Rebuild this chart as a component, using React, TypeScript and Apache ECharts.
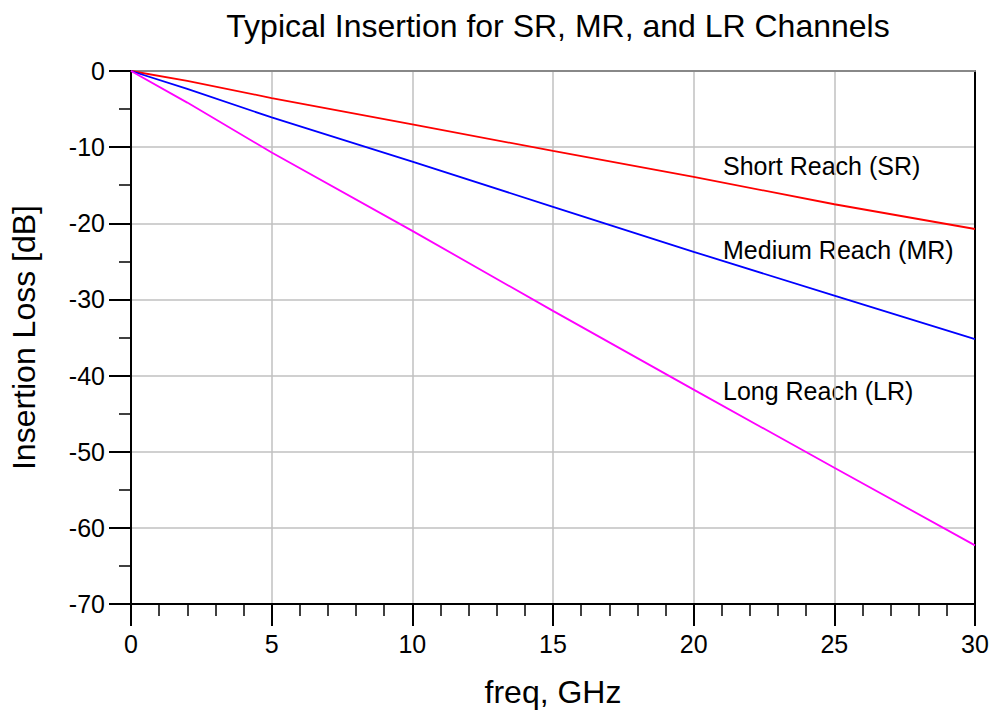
import React, { useEffect, useRef } from "react";
import * as echarts from "echarts";

const freqGHz = [0, 2, 5, 10, 15, 20, 25, 30];
const shortReach = [0, -1.3, -3.55, -7.0, -10.5, -13.9, -17.5, -20.75];
const mediumReach = [0, -2.35, -6.1, -11.9, -17.85, -23.75, -29.5, -35.2];
const longReach = [0, -4.15, -10.7, -21.0, -31.5, -41.85, -52.1, -62.3];
const seriesNames = ["Short Reach (SR)", "Medium Reach (MR)", "Long Reach (LR)"];
const seriesColors = ["#ff0000", "#0000ff", "#ff00ff"];
const titleText = "Typical Insertion for SR, MR, and LR Channels";
const xName = "freq, GHz";
const yName = "Insertion Loss [dB]";

const FONT = "Liberation Sans, Arial, sans-serif";

export default function App() {
  const ref = useRef<HTMLDivElement>(null);
  useEffect(() => {
    if (!ref.current) return;
    const chart = echarts.init(ref.current, null, { renderer: "svg" });
    const toPairs = (ys: number[]) => freqGHz.map((x, i) => [x, ys[i]]);
    const all = [shortReach, mediumReach, longReach];
    chart.setOption({
      animation: false,
      backgroundColor: "#ffffff",
      textStyle: { fontFamily: FONT },
      title: {
        text: titleText,
        left: 553,
        top: 5,
        textAlign: "center",
        textStyle: { fontFamily: FONT, fontSize: 32, fontWeight: "normal", color: "#000" },
      },
      grid: {
        left: 131,
        right: 16,
        top: 71,
        bottom: 114,
        containLabel: false,
        outerBoundsMode: "none",
      },
      xAxis: [
        {
          type: "value",
          min: 0,
          max: 30,
          interval: 5,
          name: xName,
          nameLocation: "middle",
          nameGap: 72,
          nameTextStyle: { fontFamily: FONT, fontSize: 32, color: "#000" },
          axisLine: { show: true, onZero: false, lineStyle: { color: "#000", width: 2 } },
          axisTick: { show: true, length: 22, lineStyle: { color: "#000", width: 2 } },
          minorTick: { show: true, splitNumber: 5, length: 12, lineStyle: { color: "#000", width: 1.5 } },
          axisLabel: { fontFamily: FONT, fontSize: 25, color: "#000", margin: 27 },
          splitLine: { show: true, lineStyle: { color: "#c0c0c0", width: 1.5 } },
        },
        {
          type: "value",
          position: "top",
          min: 0,
          max: 30,
          axisLine: { show: true, onZero: false, lineStyle: { color: "#888", width: 2 } },
          axisTick: { show: false },
          axisLabel: { show: false },
          splitLine: { show: false },
        },
      ],
      yAxis: [
        {
          type: "value",
          min: -70,
          max: 0,
          interval: 10,
          name: yName,
          nameLocation: "middle",
          nameGap: 91,
          nameTextStyle: { fontFamily: FONT, fontSize: 32, color: "#000" },
          axisLine: { show: true, onZero: false, lineStyle: { color: "#000", width: 2 } },
          axisTick: { show: true, length: 22, lineStyle: { color: "#000", width: 2 } },
          minorTick: { show: true, splitNumber: 2, length: 12, lineStyle: { color: "#000", width: 1.5 } },
          axisLabel: { fontFamily: FONT, fontSize: 25, color: "#000", margin: 26 },
          splitLine: { show: true, lineStyle: { color: "#c0c0c0", width: 1.5 } },
        },
        {
          type: "value",
          position: "right",
          min: -70,
          max: 0,
          axisLine: { show: true, onZero: false, lineStyle: { color: "#000", width: 2 } },
          axisTick: { show: false },
          axisLabel: { show: false },
          splitLine: { show: false },
        },
      ],
      series: all.map((ys, i) => ({
        type: "line",
        name: seriesNames[i],
        data: toPairs(ys),
        xAxisIndex: 0,
        yAxisIndex: 0,
        showSymbol: false,
        smooth: false,
        lineStyle: { color: seriesColors[i], width: 1.8 },
        itemStyle: { color: seriesColors[i] },
        z: 3,
      })),
      graphic: [
        { type: "text", left: 723, top: 153, style: { text: seriesNames[0], font: `25px ${FONT}`, fill: "#000" } },
        { type: "text", left: 723, top: 237, style: { text: seriesNames[1], font: `25px ${FONT}`, fill: "#000" } },
        { type: "text", left: 723, top: 378, style: { text: seriesNames[2], font: `25px ${FONT}`, fill: "#000" } },
      ],
    });
    return () => chart.dispose();
  }, []);
  return <div ref={ref} style={{ width: 991, height: 718, position: "absolute", left: 0, top: 0 }} />;
}
